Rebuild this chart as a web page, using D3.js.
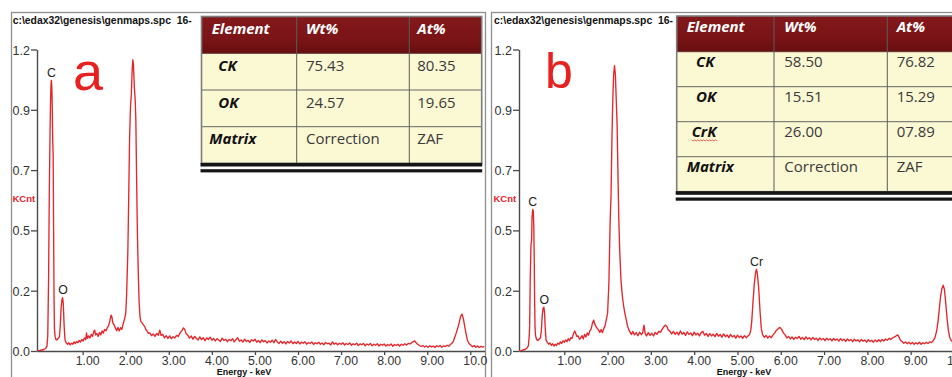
<!DOCTYPE html>
<html>
<head>
<meta charset="utf-8">
<script src="https://cdn.jsdelivr.net/npm/d3@7"></script>
<style>
  html, body { margin: 0; padding: 0; background: #fff; }
  svg { display: block; }
</style>
</head>
<body>
<svg id="chart" width="952" height="377"></svg>
<script>
// ---- data -------------------------------------------------------------
const fileTitle = "c:\\edax32\\genesis\\genmaps.spc  16-";
const energyTitle = "Energy - keV";
const countTitle = "KCnt";

const energyTicks = [1, 2, 3, 4, 5, 6, 7, 8, 9, 10];
const energyTickLabels = ["1.00", "2.00", "3.00", "4.00", "5.00", "6.00", "7.00", "8.00", "9.00", "10.0"];
const countTicks = [0, 0.24, 0.48, 0.72, 0.96, 1.2];
const countTickLabels = ["0.0", "0.2", "0.5", "0.7", "0.9", "1.2"];

const tableHeader = ["Element", "Wt%", "At%"];
const tableRowsA = [
  ["CK", "75.43", "80.35"],
  ["OK", "24.57", "19.65"],
  ["Matrix", "Correction", "ZAF"]
];
const tableRowsB = [
  ["CK", "58.50", "76.82"],
  ["OK", "15.51", "15.29"],
  ["CrK", "26.00", "07.89"],
  ["Matrix", "Correction", "ZAF"]
];

// peak annotations: element, energy (keV), counts (KCnt)
const peaksA = [["C", 0.275, 1.077], ["O", 0.545, 0.212]];
const peaksB = [["C", 0.27, 0.563], ["O", 0.54, 0.174], ["Cr", 5.44, 0.325]];

// spectra: [energy keV, KCnt]
const spectrumA = [
  [-0.06,0.000],[0.00,0.002],[0.05,0.004],[0.10,0.006],[0.14,0.010],[0.17,0.018],[0.19,0.060],
  [0.21,0.300],[0.225,0.620],[0.235,0.760],[0.245,0.900],[0.255,1.000],[0.265,1.060],[0.275,1.077],
  [0.285,1.050],[0.295,0.960],[0.305,0.840],[0.315,0.780],[0.325,0.500],[0.335,0.220],[0.345,0.090],
  [0.36,0.058],[0.38,0.046],[0.40,0.044],[0.43,0.050],[0.46,0.056],[0.48,0.100],[0.50,0.170],
  [0.52,0.205],[0.535,0.212],[0.55,0.190],[0.57,0.100],[0.59,0.045],
  [0.62,0.032],[0.65,0.027],[0.68,0.033],[0.71,0.024],[0.74,0.031],[0.77,0.027],[0.80,0.036],
  [0.83,0.030],[0.86,0.038],[0.89,0.033],[0.92,0.042],[0.95,0.036],[0.98,0.046],[1.01,0.040],
  [1.04,0.052],[1.07,0.045],[1.09,0.072],[1.11,0.050],[1.14,0.060],[1.17,0.052],[1.20,0.066],
  [1.23,0.058],[1.26,0.078],[1.28,0.083],[1.30,0.064],[1.33,0.070],[1.36,0.058],[1.39,0.074],
  [1.42,0.064],[1.45,0.080],[1.48,0.071],[1.51,0.086],[1.54,0.080],[1.57,0.092],[1.60,0.100],
  [1.63,0.118],[1.66,0.143],[1.68,0.135],[1.70,0.112],[1.73,0.104],[1.76,0.092],[1.79,0.081],
  [1.82,0.094],[1.85,0.080],[1.88,0.093],[1.91,0.086],[1.94,0.108],[1.97,0.125],[2.00,0.150],
  [2.02,0.220],[2.05,0.400],[2.07,0.620],[2.09,0.850],
  [2.11,0.970],[2.13,1.020],[2.15,1.120],[2.165,1.159],[2.18,1.140],[2.20,1.050],[2.22,1.000],
  [2.235,0.920],[2.25,0.720],[2.27,0.480],[2.29,0.320],[2.31,0.200],[2.33,0.140],[2.35,0.118],
  [2.38,0.112],[2.41,0.104],[2.44,0.098],[2.47,0.085],[2.50,0.078],[2.53,0.070],
  [2.56,0.072],[2.60,0.061],[2.64,0.068],[2.68,0.058],[2.72,0.070],[2.76,0.063],[2.79,0.083],
  [2.82,0.062],[2.86,0.066],[2.90,0.052],[2.94,0.061],[2.98,0.050],[3.02,0.060],[3.06,0.049],
  [3.10,0.057],[3.14,0.052],[3.18,0.062],[3.22,0.058],[3.26,0.071],[3.30,0.080],[3.34,0.092],
  [3.37,0.086],[3.40,0.070],[3.44,0.063],[3.48,0.051],[3.52,0.060],[3.56,0.047],[3.60,0.058],
  [3.64,0.050],[3.68,0.044],[3.72,0.056],[3.76,0.045],[3.80,0.053],[3.84,0.041],[3.88,0.052],
  [3.92,0.046],[3.96,0.055],[4.00,0.043],[4.04,0.050],[4.08,0.040],[4.12,0.049],[4.16,0.044],
  [4.20,0.038],[4.24,0.051],[4.28,0.042],[4.32,0.047],[4.36,0.037],[4.40,0.046],[4.44,0.041],
  [4.48,0.049],[4.52,0.036],[4.56,0.045],[4.60,0.053],[4.64,0.039],[4.68,0.044],[4.72,0.035],
  [4.76,0.047],[4.80,0.038],[4.84,0.043],[4.88,0.034],[4.92,0.045],[4.96,0.040],[5.00,0.047],
  [5.04,0.035],[5.08,0.042],[5.12,0.033],[5.16,0.044],[5.20,0.037],[5.24,0.041],[5.28,0.032],
  [5.32,0.040],[5.36,0.035],[5.40,0.043],[5.44,0.033],[5.48,0.046],[5.52,0.036],[5.56,0.030],
  [5.60,0.039],[5.64,0.031],[5.68,0.037],[5.72,0.028],[5.76,0.038],[5.80,0.032],[5.84,0.040],
  [5.88,0.029],[5.92,0.036],[5.96,0.030],[6.00,0.038],[6.04,0.028],[6.08,0.035],[6.12,0.031],
  [6.16,0.037],[6.20,0.027],[6.24,0.034],[6.28,0.030],[6.32,0.036],[6.36,0.026],[6.40,0.033],
  [6.44,0.029],[6.48,0.035],[6.52,0.027],[6.56,0.032],[6.60,0.025],[6.64,0.034],[6.68,0.029],
  [6.72,0.031],[6.76,0.024],[6.80,0.036],[6.84,0.027],[6.88,0.032],[6.92,0.025],[6.96,0.031],
  [7.00,0.027],[7.04,0.033],[7.08,0.024],[7.12,0.030],[7.16,0.026],[7.20,0.032],[7.24,0.023],
  [7.28,0.029],[7.32,0.025],[7.36,0.031],[7.40,0.022],[7.44,0.028],[7.48,0.025],[7.52,0.030],
  [7.56,0.021],[7.60,0.028],[7.64,0.024],[7.68,0.030],[7.72,0.021],[7.76,0.027],[7.80,0.023],
  [7.84,0.029],[7.88,0.020],[7.92,0.027],[7.96,0.023],[8.00,0.028],[8.04,0.020],[8.08,0.026],
  [8.12,0.022],[8.16,0.028],[8.20,0.019],[8.24,0.026],[8.28,0.022],[8.32,0.027],[8.36,0.020],
  [8.40,0.027],[8.44,0.023],[8.48,0.029],[8.52,0.024],[8.56,0.030],[8.60,0.028],[8.64,0.034],
  [8.68,0.037],[8.71,0.040],[8.74,0.033],[8.78,0.027],[8.82,0.022],[8.86,0.018],[8.90,0.022],
  [8.94,0.016],[8.98,0.020],[9.02,0.015],[9.06,0.021],[9.10,0.016],[9.14,0.020],[9.18,0.014],
  [9.22,0.021],[9.26,0.017],[9.30,0.022],[9.34,0.015],[9.38,0.020],[9.42,0.018],[9.46,0.023],
  [9.50,0.019],[9.54,0.026],
  [9.60,0.036],[9.64,0.055],[9.68,0.075],[9.72,0.098],[9.75,0.118],[9.78,0.140],[9.81,0.147],
  [9.84,0.128],[9.87,0.098],[9.90,0.070],[9.93,0.045],[9.97,0.030],[10.01,0.024],[10.05,0.017],
  [10.09,0.022],[10.13,0.015],[10.17,0.020],[10.21,0.014],[10.25,0.019],[10.29,0.015],[10.33,0.018]
];

const spectrumB = [
  [-0.05,0.000],[0.00,0.001],[0.05,0.004],[0.10,0.007],[0.14,0.012],[0.17,0.020],[0.19,0.060],
  [0.20,0.100],[0.215,0.300],[0.23,0.420],[0.245,0.440],[0.255,0.530],[0.27,0.563],[0.285,0.555],
  [0.295,0.500],[0.305,0.380],[0.315,0.200],[0.325,0.090],[0.335,0.062],[0.36,0.045],[0.39,0.042],
  [0.42,0.048],[0.45,0.052],[0.47,0.080],[0.49,0.140],[0.51,0.170],[0.53,0.174],[0.545,0.150],
  [0.56,0.090],[0.58,0.042],
  [0.61,0.034],[0.64,0.027],[0.67,0.032],[0.70,0.022],[0.73,0.029],[0.76,0.020],[0.79,0.027],
  [0.82,0.022],[0.85,0.031],[0.88,0.027],[0.91,0.036],[0.94,0.030],[0.97,0.041],[1.00,0.034],
  [1.03,0.044],[1.06,0.037],[1.09,0.049],[1.12,0.041],[1.15,0.053],[1.18,0.050],[1.21,0.068],
  [1.24,0.080],[1.26,0.072],[1.29,0.058],[1.32,0.060],[1.35,0.047],[1.38,0.052],[1.41,0.061],
  [1.44,0.048],[1.47,0.066],[1.50,0.056],[1.53,0.072],[1.56,0.063],[1.59,0.080],[1.62,0.088],
  [1.65,0.110],[1.68,0.123],[1.70,0.110],[1.73,0.098],[1.76,0.090],[1.79,0.084],[1.82,0.074],
  [1.85,0.086],[1.88,0.073],[1.91,0.088],[1.94,0.100],[1.97,0.125],[2.00,0.150],
  [2.03,0.270],[2.06,0.520],[2.08,0.620],[2.10,0.840],[2.12,1.000],[2.14,1.100],
  [2.16,1.136],[2.18,1.100],[2.20,1.000],[2.22,0.900],[2.24,0.700],[2.26,0.520],[2.28,0.400],
  [2.31,0.280],[2.34,0.220],[2.37,0.180],[2.40,0.150],[2.43,0.125],[2.46,0.100],[2.49,0.085],
  [2.52,0.075],
  [2.55,0.066],[2.58,0.078],[2.62,0.064],[2.66,0.073],[2.70,0.061],[2.74,0.075],[2.78,0.065],
  [2.81,0.072],[2.84,0.103],[2.87,0.068],[2.90,0.060],[2.94,0.073],[2.98,0.062],[3.02,0.071],
  [3.06,0.060],[3.10,0.074],[3.14,0.066],[3.18,0.078],[3.22,0.074],[3.26,0.086],[3.30,0.097],
  [3.34,0.103],[3.37,0.098],[3.40,0.084],[3.44,0.079],[3.48,0.068],[3.52,0.078],[3.56,0.066],
  [3.60,0.075],[3.64,0.064],[3.68,0.080],[3.72,0.067],[3.76,0.074],[3.80,0.062],[3.84,0.076],
  [3.88,0.066],[3.92,0.072],[3.96,0.061],[4.00,0.075],[4.04,0.064],[4.08,0.071],[4.12,0.060],
  [4.16,0.073],[4.20,0.078],[4.24,0.063],[4.28,0.070],[4.32,0.058],[4.36,0.069],[4.40,0.060],
  [4.44,0.067],[4.48,0.057],[4.52,0.070],[4.56,0.059],[4.60,0.066],[4.64,0.055],[4.68,0.068],
  [4.72,0.057],[4.76,0.064],[4.80,0.053],[4.84,0.066],[4.88,0.056],[4.92,0.062],[4.96,0.051],
  [5.00,0.063],[5.04,0.054],[5.08,0.060],[5.12,0.050],[5.16,0.061],[5.20,0.053],[5.24,0.060],
  [5.28,0.066],[5.31,0.085],[5.33,0.120],[5.36,0.200],[5.39,0.270],[5.42,0.315],[5.44,0.325],
  [5.46,0.305],[5.49,0.250],[5.52,0.160],[5.55,0.090],[5.58,0.065],[5.62,0.054],[5.66,0.062],
  [5.70,0.051],[5.74,0.060],[5.78,0.053],[5.82,0.064],[5.86,0.072],[5.90,0.083],[5.94,0.089],
  [5.98,0.094],[6.02,0.086],[6.06,0.072],[6.10,0.064],[6.14,0.052],[6.18,0.058],[6.22,0.048],
  [6.26,0.056],[6.30,0.046],[6.34,0.055],[6.38,0.050],[6.42,0.058],[6.46,0.047],[6.50,0.054],
  [6.54,0.045],[6.58,0.056],[6.62,0.048],[6.66,0.053],[6.70,0.044],[6.74,0.054],[6.78,0.046],
  [6.82,0.051],[6.86,0.042],[6.90,0.052],[6.94,0.045],[6.98,0.050],[7.02,0.041],[7.06,0.051],
  [7.10,0.044],[7.14,0.049],[7.18,0.040],[7.22,0.050],[7.26,0.043],[7.30,0.048],[7.34,0.039],
  [7.38,0.049],[7.42,0.042],[7.46,0.047],[7.50,0.038],[7.54,0.048],[7.58,0.041],[7.62,0.046],
  [7.66,0.037],[7.70,0.047],[7.74,0.040],[7.78,0.045],[7.82,0.036],[7.86,0.046],[7.90,0.039],
  [7.94,0.044],[7.98,0.035],[8.02,0.045],[8.06,0.038],[8.10,0.043],[8.14,0.035],[8.18,0.044],
  [8.22,0.037],[8.26,0.045],[8.30,0.038],[8.34,0.046],[8.38,0.040],[8.42,0.048],[8.46,0.043],
  [8.50,0.050],[8.54,0.046],[8.58,0.052],[8.62,0.055],[8.66,0.060],[8.70,0.064],[8.73,0.056],
  [8.76,0.044],[8.80,0.038],[8.84,0.031],[8.88,0.036],[8.92,0.029],[8.96,0.035],[9.00,0.028],
  [9.04,0.034],[9.08,0.027],[9.12,0.033],[9.16,0.028],[9.20,0.035],[9.24,0.027],[9.28,0.033],
  [9.32,0.029],[9.36,0.035],[9.40,0.030],[9.44,0.036],[9.48,0.034],[9.52,0.041],
  [9.56,0.052],[9.60,0.080],[9.63,0.115],[9.66,0.165],[9.69,0.216],[9.72,0.248],[9.75,0.262],
  [9.78,0.245],[9.81,0.190],[9.84,0.130],[9.87,0.083],[9.90,0.055],[9.94,0.040],[9.98,0.036],
  [10.05,0.033],[10.12,0.030],[10.20,0.032],[10.30,0.028],[10.40,0.030]
];

// ---- layout -----------------------------------------------------------
const RED = "#e4262b";
const AXIS = "#4a4a4a";
const FRAME = "#8f8f8f";

const panels = [
  {
    letter: "a", spectrum: spectrumA, peaks: peaksA, rows: tableRowsA,
    box: { x: 11, y: 12, w: 474, h: 380 },
    plot: { left: 37, right: 484.5, top: 49.5, bottom: 351, kevMin: -0.06, kevMax: 10.33 },
    titleX: 12.7, kcntX: 12.5, energyTitleX: 244,
    letterStyle: { x: 88, y: 89.5, size: 54 },
    table: { x: 201.5, y: 16.5, cols: [95.2, 112.6, 72.4], headH: 36.8, rowH: 36.7,
             textDy: 17.6, indents: [10.2, 16.8, 16.8, 7.8], pads: [9.3, 8] }
  },
  {
    letter: "b", spectrum: spectrumB, peaks: peaksB, rows: tableRowsB,
    box: { x: 491, y: 12, w: 480, h: 380 },
    plot: { left: 519, right: 970, top: 49.5, bottom: 351, kevMin: -0.046, kevMax: 10.37 },
    titleX: 494, kcntX: 493.5, energyTitleX: 744,
    letterStyle: { x: 559, y: 87.5, size: 50 },
    table: { x: 676.7, y: 16, cols: [97.3, 113.3, 113.3], headH: 35.7, rowH: 35,
             textDy: 15.6, indents: [10, 19.3, 19.3, 15, 10], pads: [10.3, 9.4] },
    squiggleRow: 2
  }
];

const svg = d3.select("#chart");
const defs = svg.append("defs");

const grad = defs.append("linearGradient").attr("id", "hdrGrad")
  .attr("x1", 0).attr("y1", 0).attr("x2", 0).attr("y2", 1);
grad.append("stop").attr("offset", "0%").attr("stop-color", "#83191c");
grad.append("stop").attr("offset", "60%").attr("stop-color", "#7a1416");
grad.append("stop").attr("offset", "100%").attr("stop-color", "#680e10");

panels.forEach((p, pi) => {
  const g = svg.append("g");

  // panel frame
  g.append("rect")
    .attr("x", p.box.x + 0.5).attr("y", p.box.y + 0.5)
    .attr("width", p.box.w).attr("height", p.box.h)
    .attr("fill", "#fff").attr("stroke", FRAME).attr("stroke-width", 1.3);

  // file title
  g.append("text")
    .attr("x", p.titleX).attr("y", 24.3)
    .style("white-space", "pre")
    .attr("font-family", "'Liberation Sans', Arial, sans-serif")
    .attr("font-weight", "bold").attr("font-size", 10.4)
    .attr("fill", "#111")
    .text(fileTitle);

  const x = d3.scaleLinear().domain([p.plot.kevMin, p.plot.kevMax]).range([p.plot.left, p.plot.right]);
  const y = d3.scaleLinear().domain([0, 1.2]).range([p.plot.bottom, p.plot.top]);

  // y axis
  const yAxis = d3.axisLeft(y)
    .tickValues(countTicks)
    .tickFormat((d, i) => countTickLabels[i])
    .tickSize(6).tickSizeOuter(0).tickPadding(1);
  const gy = g.append("g").attr("transform", `translate(${p.plot.left},0)`).call(yAxis);
  gy.select(".domain").attr("stroke", AXIS).attr("stroke-width", 1.4);
  gy.selectAll(".tick line").attr("stroke", AXIS).attr("stroke-width", 1.3);
  gy.selectAll(".tick text")
    .attr("font-family", "'Liberation Sans', Arial, sans-serif")
    .attr("font-size", 12.5).attr("fill", "#333").attr("dy", "0.36em");

  // x axis
  const xAxis = d3.axisBottom(x)
    .tickValues(energyTicks)
    .tickFormat((d, i) => energyTickLabels[i])
    .tickSize(4).tickSizeOuter(0);
  const gx = g.append("g").attr("transform", `translate(0,${p.plot.bottom})`).call(xAxis);
  gx.select(".domain").attr("stroke", AXIS).attr("stroke-width", 1.4);
  gx.selectAll(".tick line").attr("stroke", AXIS).attr("stroke-width", 1.3);
  gx.selectAll(".tick text")
    .attr("font-family", "'Liberation Sans', Arial, sans-serif")
    .attr("font-size", 12.3).attr("fill", "#333")
    .attr("y", 13.5).attr("dy", 0).attr("dx", 4.5);

  // axis titles
  g.append("text")
    .attr("x", p.kcntX).attr("y", 202)
    .attr("font-family", "'Liberation Sans', Arial, sans-serif")
    .attr("font-weight", "bold").attr("font-size", 9.5)
    .attr("fill", RED).text(countTitle);
  g.append("text")
    .attr("x", p.energyTitleX).attr("y", 375)
    .attr("text-anchor", "middle")
    .attr("font-family", "'Liberation Sans', Arial, sans-serif")
    .attr("font-weight", "bold").attr("font-size", 9)
    .attr("fill", "#111").text(energyTitle);

  // spectrum trace
  const clipId = "clip" + pi;
  defs.append("clipPath").attr("id", clipId).append("rect")
    .attr("x", p.plot.left).attr("y", p.box.y)
    .attr("width", p.plot.right - p.plot.left).attr("height", p.plot.bottom - p.box.y);
  const line = d3.line().x(d => x(d[0])).y(d => y(d[1]));
  g.append("path")
    .datum(p.spectrum)
    .attr("clip-path", `url(#${clipId})`)
    .attr("d", line)
    .attr("fill", "none").attr("stroke", RED)
    .attr("stroke-width", 1.35).attr("stroke-linejoin", "round");

  // element annotations
  g.selectAll("text.peak").data(p.peaks).enter().append("text")
    .attr("class", "peak")
    .attr("x", d => x(d[1]))
    .attr("y", d => y(d[2]) - 3.6)
    .attr("text-anchor", "middle")
    .attr("font-family", "'Liberation Sans', Arial, sans-serif")
    .attr("font-size", 12.3).attr("fill", "#222")
    .text(d => d[0]);

  // panel letter
  g.append("text")
    .attr("x", p.letterStyle.x).attr("y", p.letterStyle.y)
    .attr("text-anchor", "middle")
    .attr("font-family", "'Liberation Sans', Arial, sans-serif")
    .attr("font-size", p.letterStyle.size).attr("fill", "#e8201f")
    .text(p.letter);

  // composition table
  const t = p.table;
  const tg = g.append("g");
  const colX = [t.x];
  t.cols.forEach(w => colX.push(colX[colX.length - 1] + w));
  const width = colX[colX.length - 1] - t.x;
  const rowTops = [t.y, t.y + t.headH];
  p.rows.forEach(() => rowTops.push(rowTops[rowTops.length - 1] + t.rowH));
  const bottom = rowTops[rowTops.length - 1];

  tg.append("rect").attr("x", t.x).attr("y", t.y).attr("width", width).attr("height", t.headH)
    .attr("fill", "url(#hdrGrad)");
  tg.append("rect").attr("x", t.x).attr("y", t.y + t.headH).attr("width", width)
    .attr("height", bottom - t.y - t.headH).attr("fill", "#fbf8d4");

  rowTops.slice(2, -1).forEach(ry => {
    tg.append("line").attr("x1", t.x).attr("x2", t.x + width).attr("y1", ry).attr("y2", ry)
      .attr("stroke", "#666").attr("stroke-width", 1);
  });
  tg.append("line").attr("x1", t.x).attr("x2", t.x + width)
    .attr("y1", t.y + t.headH).attr("y2", t.y + t.headH)
    .attr("stroke", "#5a2a2a").attr("stroke-width", 1);
  colX.slice(1, -1).forEach(cx => {
    tg.append("line").attr("x1", cx).attr("x2", cx).attr("y1", t.y).attr("y2", bottom)
      .attr("stroke", "#5c5c5c").attr("stroke-width", 1);
  });
  tg.append("rect").attr("x", t.x).attr("y", t.y).attr("width", width).attr("height", bottom - t.y)
    .attr("fill", "none").attr("stroke", "#7d7d7d").attr("stroke-width", 1.6);

  // double rule under the table
  tg.append("rect").attr("x", t.x - 1).attr("y", bottom - 0.5).attr("width", width + 1.5).attr("height", 3.6)
    .attr("fill", "#151515");
  tg.append("rect").attr("x", t.x - 1).attr("y", bottom + 5.8).attr("width", width + 1.5).attr("height", 3.2)
    .attr("fill", "#151515");

  const font = "'Open Sans', 'Liberation Sans', sans-serif";
  const textX = (ci, ri) => ci === 0 ? t.x + t.indents[ri] : colX[ci] + t.pads[ci - 1];

  tableHeader.forEach((h, ci) => {
    tg.append("text")
      .attr("x", textX(ci, 0)).attr("y", t.y + t.textDy)
      .attr("font-family", font).attr("font-size", 15)
      .attr("font-weight", "bold").attr("font-style", "italic")
      .attr("fill", "#fff").text(h);
  });
  p.rows.forEach((row, r) => {
    const ty = rowTops[r + 1] + t.textDy;
    row.forEach((cell, ci) => {
      const el = tg.append("text")
        .attr("x", textX(ci, r + 1)).attr("y", ty)
        .attr("font-family", font).attr("font-size", 15)
        .attr("fill", ci === 0 ? "#111" : "#3a3a3a")
        .text(cell);
      if (ci === 0) el.attr("font-weight", "bold").attr("font-style", "italic");
      if (ci === 0 && p.squiggleRow === r) {
        // spell-check style wavy underline
        const bb = el.node().getBBox();
        const path = d3.path();
        const sy = ty + 2.6;
        path.moveTo(bb.x, sy);
        let k = 0;
        for (let sx = bb.x + 1.5; sx <= bb.x + bb.width + 0.1; sx += 1.5, k++) {
          path.lineTo(sx, sy + (k % 2 === 0 ? 1 : 0));
        }
        tg.append("path").attr("d", path.toString())
          .attr("fill", "none").attr("stroke", "#e03a3a").attr("stroke-width", 0.8);
      }
    });
  });
});
</script>
</body>
</html>
